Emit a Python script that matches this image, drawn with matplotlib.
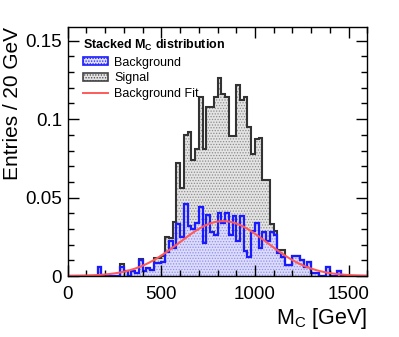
import numpy as np
import matplotlib
matplotlib.use('Agg')
import matplotlib.pyplot as plt
from matplotlib.patches import Patch
from matplotlib.lines import Line2D
from matplotlib.ticker import MultipleLocator, FuncFormatter

plt.rcParams['font.family'] = ['Liberation Sans', 'DejaVu Sans']
plt.rcParams['mathtext.fontset'] = 'custom'
plt.rcParams['mathtext.rm'] = 'Liberation Sans'
plt.rcParams['mathtext.bf'] = 'Liberation Sans:bold'
plt.rcParams['hatch.linewidth'] = 0.6

# binning: 0-1600 GeV in 20 GeV bins
bin_lo = 0
bin_hi = 1600
bin_width = 20

background = [
    0, 0, 0, 0, 0, 0, 0, 0, 0.0055, 0,             # 0-200
    0, 0, 0, 0, 0.006, 0.0032, 0, 0.003, 0.002, 0.0105,  # 200-400
    0.003, 0.005, 0.004, 0.008, 0.008, 0.009, 0.0155, 0.022, 0.018, 0.033,  # 400-600
    0.025, 0.046, 0.032, 0.030, 0.034, 0.044, 0.021, 0.039, 0.028, 0.026,  # 600-800
    0.040, 0.034, 0.040, 0.026, 0.038, 0.022, 0.038, 0.016, 0.012, 0.029,  # 800-1000
    0.0335, 0.018, 0.028, 0.022, 0.028, 0.026, 0.0144, 0.012, 0.007, 0.007,  # 1000-1200
    0.013, 0.013, 0.010, 0.006, 0.009, 0.002, 0.002, 0, 0, 0.0055,  # 1200-1400
    0, 0, 0.0035, 0, 0, 0, 0, 0, 0, 0,              # 1400-1600
]

signal = [
    0, 0, 0, 0, 0, 0, 0, 0, 0, 0,
    0, 0, 0, 0, 0.0014, 0, 0, 0, 0, 0.0003,
    0, 0, 0, 0.0037, 0.0037, 0.004, 0.0095, 0.002, 0.0166, 0.0388,
    0.031, 0.0438, 0.060, 0.044, 0.047, 0.070, 0.060, 0.069, 0.080, 0.088,
    0.086, 0.082, 0.074, 0.063, 0.051, 0.100, 0.074, 0.098, 0.083, 0.049,
    0.054, 0.070, 0.033, 0.039, 0.005, 0.003, 0.0022, 0.0046, 0, 0,
    0, 0, 0, 0, 0, 0, 0, 0, 0, 0,
    0, 0, 0, 0, 0, 0, 0, 0, 0, 0,
]

# gaussian background fit
fit_amp = 0.035
fit_mean = 830
fit_sigma = 235

edges = np.arange(bin_lo, bin_hi + bin_width, bin_width)
bg = np.array(background)
sig = np.array(signal)
total = bg + sig

fig = plt.figure(figsize=(3.99, 3.37), dpi=100)
ax = fig.add_axes([0.1697, 0.181, 0.751, 0.740])

ax.stairs(total, edges, fill=True, facecolor='#e4e4e4', edgecolor='#8c8c8c',
          hatch='......', linewidth=0)
ax.stairs(bg, edges, fill=True, facecolor='#dcdcfa', edgecolor='#8f8ff0',
          hatch='......', linewidth=0)
ax.stairs(total, edges, color='#333333', linewidth=1.5)
ax.stairs(bg, edges, color='#1a1aff', linewidth=1.6)

xf = np.linspace(bin_lo, bin_hi, 400)
yf = fit_amp * np.exp(-0.5 * ((xf - fit_mean) / fit_sigma) ** 2)
ax.plot(xf, yf, color='#ff5a5a', linewidth=1.5)

ax.set_xlim(bin_lo, bin_hi)
ax.set_ylim(0, 0.159)
ax.xaxis.set_major_locator(MultipleLocator(500))
ax.xaxis.set_minor_locator(MultipleLocator(100))
ax.yaxis.set_major_locator(MultipleLocator(0.05))
ax.yaxis.set_minor_locator(MultipleLocator(0.01))
ax.yaxis.set_major_formatter(FuncFormatter(lambda v, p: '%g' % round(v, 4)))
ax.tick_params(which='both', direction='in', top=True, right=True, width=1)
ax.tick_params(which='major', length=8, labelsize=13.5)
ax.tick_params(axis='x', which='major', pad=7)
ax.tick_params(axis='y', which='major', pad=4)
ax.tick_params(which='minor', length=4)
for s in ax.spines.values():
    s.set_linewidth(1)

ax.set_ylabel('Entries / 20 GeV', fontsize=15, loc='top')
ax.yaxis.set_label_coords(-0.152, 1.0)
ax.set_xlabel(r'M$_\mathregular{C}$ [GeV]', fontsize=15.5, loc='right', labelpad=2)

handles = [
    Patch(facecolor='#dcdcfa', edgecolor='#1a1aff', hatch='......', linewidth=1.2),
    Patch(facecolor='#e4e4e4', edgecolor='#444444', hatch='......', linewidth=1.2),
    Line2D([], [], color='#ff5a5a', linewidth=1.4),
]
labels = ['Background', 'Signal', 'Background Fit']
leg = ax.legend(handles, labels, loc='upper left', bbox_to_anchor=(0.025, 0.985),
                frameon=False, fontsize=9, title=r'Stacked M$_\mathbf{C}$ distribution',
                title_fontproperties={'weight': 'bold', 'size': 9},
                handlelength=2.0, handleheight=0.6, handletextpad=0.5,
                labelspacing=0.3, borderaxespad=0.2)
leg._legend_box.align = 'left'

fig.savefig('out.png', dpi=100)
